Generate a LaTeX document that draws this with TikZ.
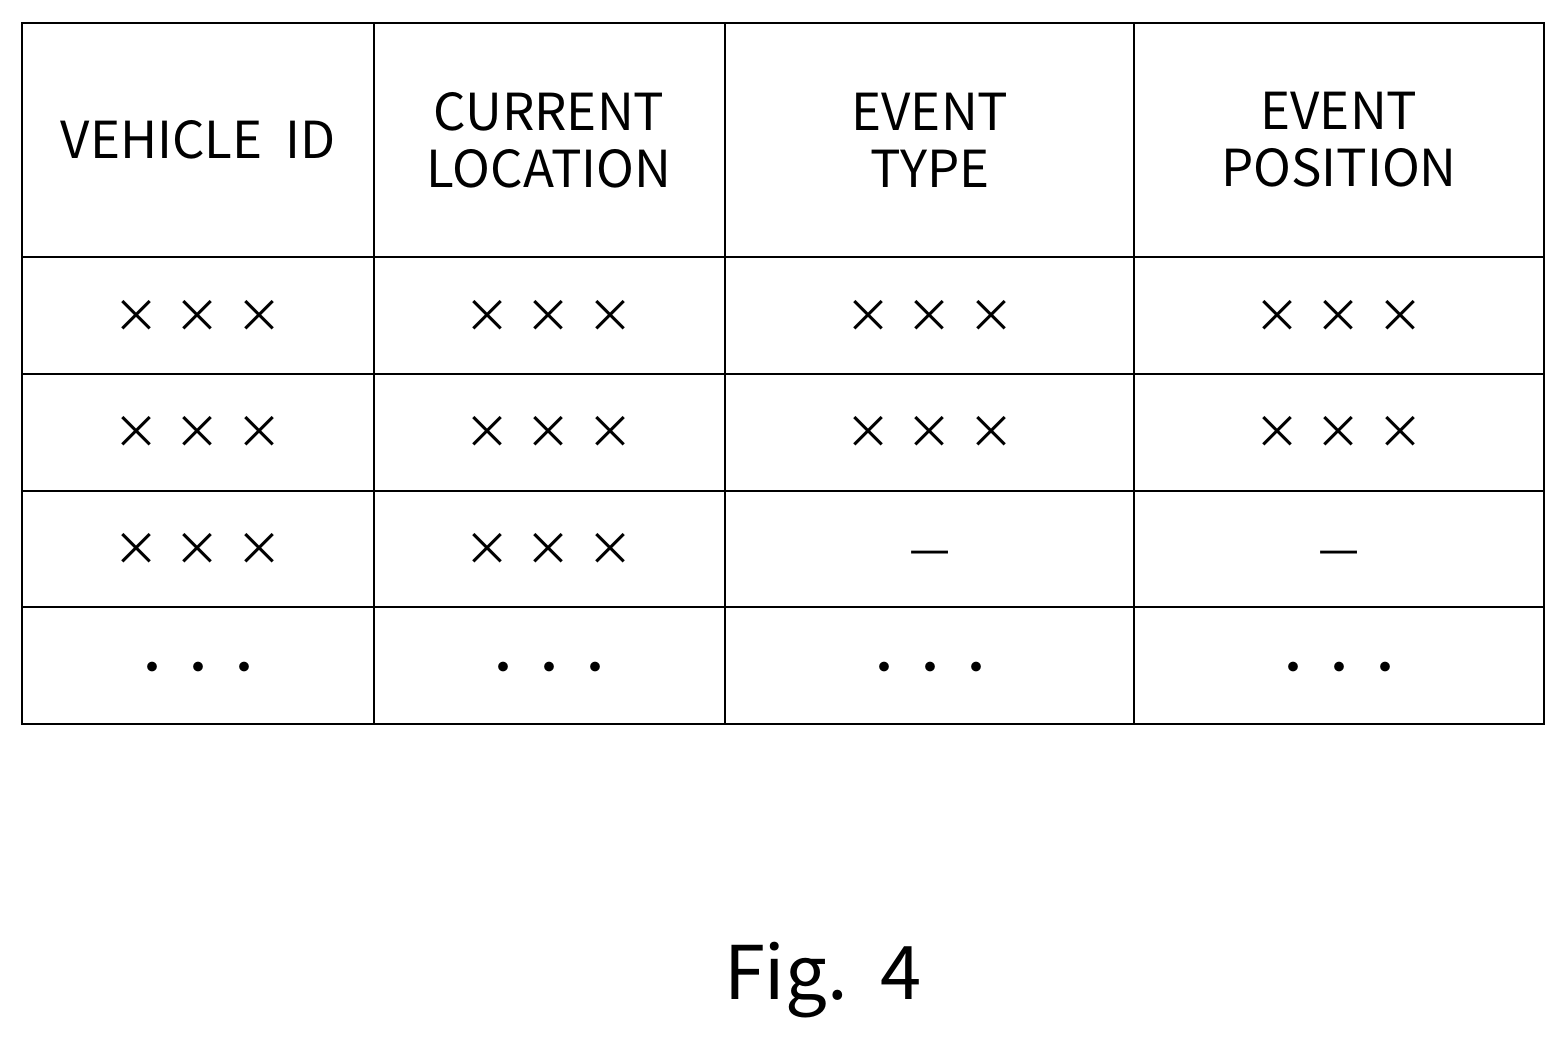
\documentclass[tikz,border=0pt]{standalone}
\usepackage{fontspec}
\setmainfont{Noto Sans CJK JP}
\begin{document}
\begin{tikzpicture}[x=1pt,y=-1pt,
  grid/.style={line width=2.5pt,black},
  cell/.style={font=\fontsize{46}{56}\selectfont,align=center,inner sep=0pt},
  head/.style={font=\fontsize{51}{57}\selectfont,align=center,inner sep=0pt}]
\useasboundingbox (0,0) rectangle (1566,1038);
\draw[grid] (22,23) rectangle (1544,724);
\foreach \x in {374,725,1134} \draw[grid] (\x,23) -- (\x,724);
\foreach \y in {257,374,491,607} \draw[grid] (22,\y) -- (1544,\y);
\node[head] (h1) at (198,140) {VEHICLE\ \ ID};
\node[head] (h2) at (549,140) {CURRENT\\LOCATION};
\node[head] (h3) at (930,140) {EVENT\\TYPE};
\node[head] (h4) at (1339,140) {EVENT\\POSITION};
\foreach \c/\x in {1/198,2/549,3/930,4/1339}{
  \node[cell] (r1c\c) at (\x,316) {×\,\,×\,\,×};
  \node[cell] (r2c\c) at (\x,432) {×\,\,×\,\,×};
  \node[cell] (r4c\c) at (\x,673) {・・・};
}
\node[cell] (r3c1) at (198,549) {×\,\,×\,\,×};
\node[cell] (r3c2) at (549,549) {×\,\,×\,\,×};
\node[cell] (r3c3) at (930,558) {—};
\node[cell] (r3c4) at (1339,558) {—};
\node[font=\fontsize{74}{80}\selectfont,inner sep=0pt] (fig) at (823,980) {Fig.\ \ 4};
\end{tikzpicture}
\end{document}
